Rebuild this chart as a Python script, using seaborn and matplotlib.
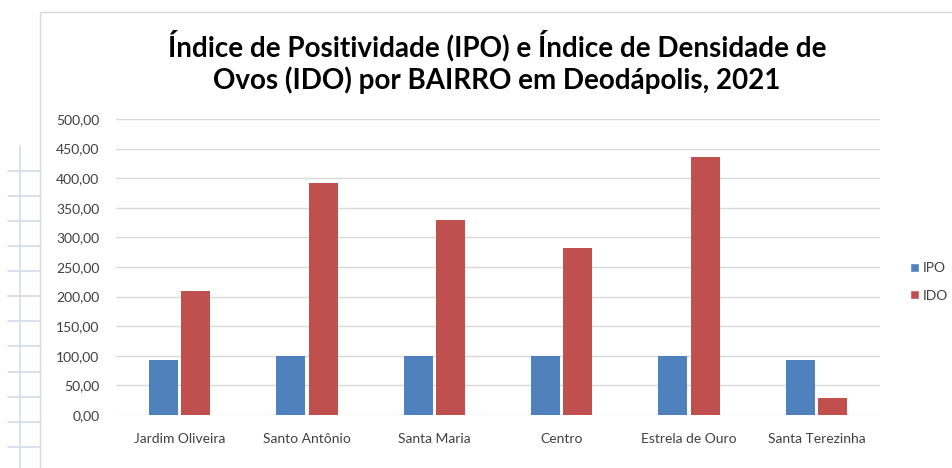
import matplotlib
matplotlib.use("Agg")
import matplotlib.pyplot as plt
from matplotlib.lines import Line2D
from matplotlib.patches import Rectangle
import seaborn as sns
import pandas as pd

bairros = ["Jardim Oliveira", "Santo Antônio", "Santa Maria", "Centro",
           "Estrela de Ouro", "Santa Terezinha"]
ipo = [93, 100, 100, 100, 100, 93]
ido = [210, 392, 329, 282, 436, 29]
series = ["IPO", "IDO"]
colors = ["#4F81BD", "#C0504D"]
title = "Índice de Positividade (IPO) e Índice de Densidade de\nOvos (IDO) por BAIRRO em Deodápolis, 2021"

df = pd.DataFrame({
    "Bairro": bairros * 2,
    "Serie": [series[0]] * len(bairros) + [series[1]] * len(bairros),
    "Valor": ipo + ido,
})

sns.set_theme(style="white")
plt.rcParams["font.family"] = ["Lato", "DejaVu Sans"]

W, H = 953, 468
fig = plt.figure(figsize=(W / 100, H / 100), dpi=100)
fig.patch.set_facecolor("white")

# spreadsheet remnants on the left
grid_c = "#D3DBEA"
fig.add_artist(Line2D([20.5 / W, 20.5 / W], [1 - 146 / H, 0], color=grid_c, lw=1.2))
y = 170.7
while y < H:
    fig.add_artist(Line2D([8 / W, 40 / W], [1 - y / H, 1 - y / H], color=grid_c, lw=1.2))
    y += 25.1
# chart border
fig.add_artist(Rectangle((40 / W, -0.01), 1.0, 1 - 12 / H + 0.01, fill=False,
                         edgecolor="#D9D9D9", lw=1.0))

ax = fig.add_axes([116 / W, 1 - 415 / H, (880 - 116) / W, (415 - 119) / H])
sns.barplot(data=df, x="Bairro", y="Valor", hue="Serie", hue_order=series,
            palette=colors, width=0.51, gap=0.11, saturation=1,
            edgecolor="none", ax=ax, legend=False)

ax.set_ylim(0, 500)
ax.set_yticks(range(0, 501, 50))
ax.set_yticklabels([f"{v},00" for v in range(0, 501, 50)], fontsize=10, color="#404040")
ax.set_xlim(-0.5, len(bairros) - 0.5)
ax.tick_params(axis="x", labelsize=10, colors="#404040", length=0, pad=13)
ax.tick_params(axis="y", length=0, pad=12)
for lbl in ax.get_yticklabels():
    lbl.set_horizontalalignment("right")
ax.set_xlabel("")
ax.set_ylabel("")
ax.yaxis.grid(True, color="#D9D9D9", lw=1.0)
ax.set_axisbelow(True)
for s in ax.spines.values():
    s.set_visible(False)

fig.text(497 / W, 1 - 62 / H, title, ha="center", va="center", fontsize=20,
         fontweight="bold", color="#000000", linespacing=1.2)

handles = [Rectangle((0, 0), 1, 1, facecolor=c) for c in colors]
fig.legend(handles, series, loc="center left", bbox_to_anchor=(898 / W, 1 - 282 / H),
           frameon=False, fontsize=10, handlelength=0.6, handleheight=0.6,
           handletextpad=0.25, labelspacing=1.1, labelcolor="#404040")

fig.savefig("out.png", dpi=100)
